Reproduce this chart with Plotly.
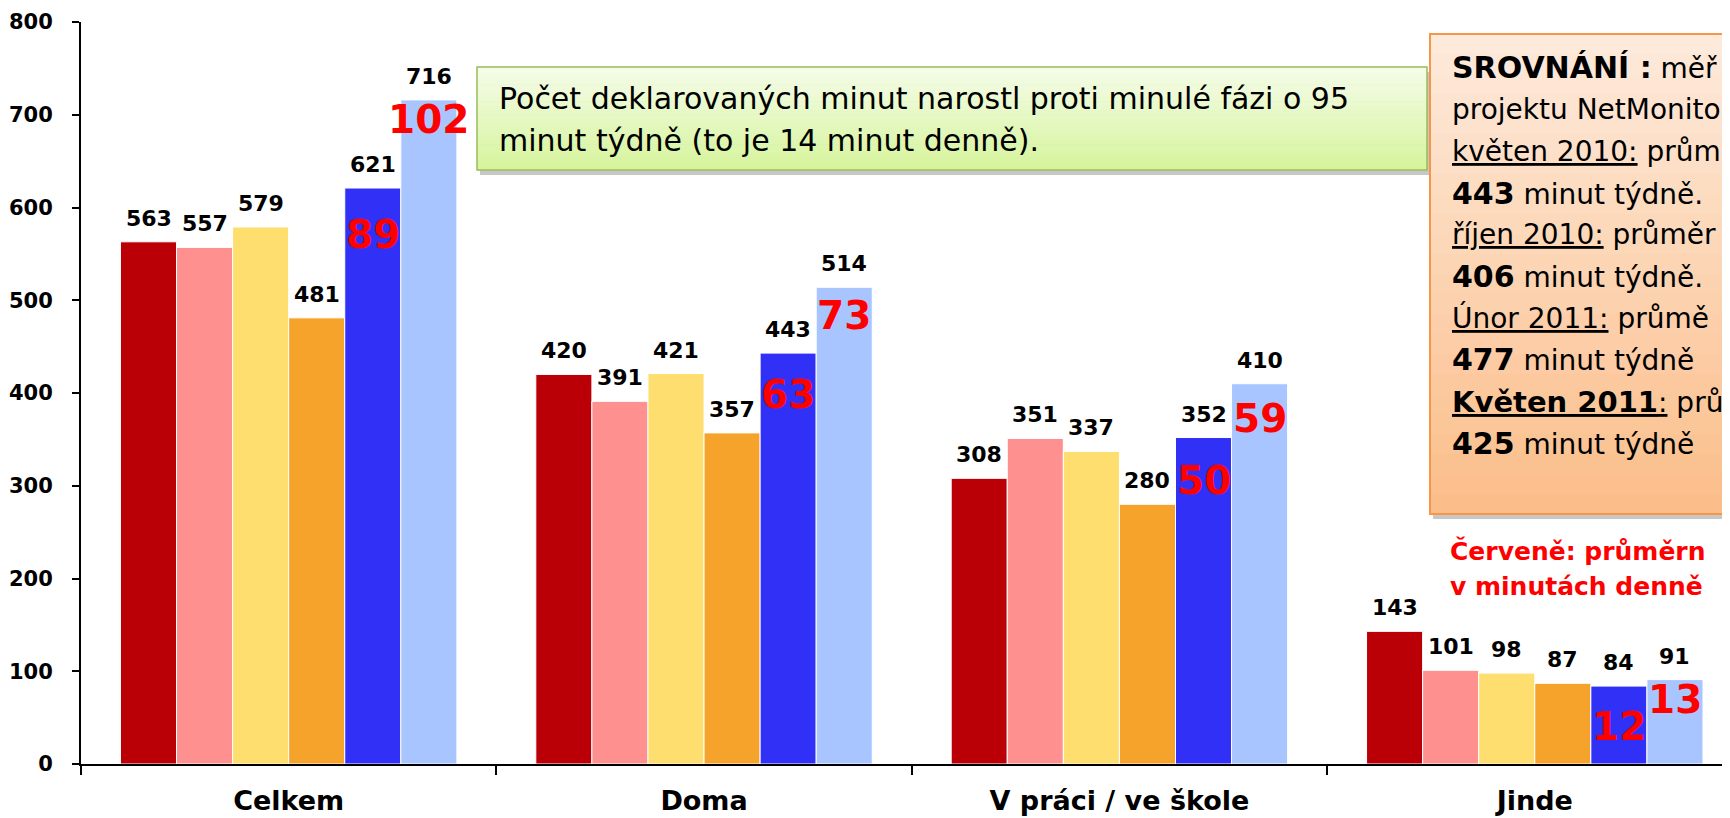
import plotly.graph_objects as go

# ---------------- data ----------------
categories = ["Celkem", "Doma", "V práci / ve škole", "Jinde"]
series_names = ["Fáze 1", "Fáze 2", "Fáze 3", "Fáze 4", "Fáze 5", "Fáze 6"]
series_values = [
    [563, 420, 308, 143],
    [557, 391, 351, 101],
    [579, 421, 337, 98],
    [481, 357, 280, 87],
    [621, 443, 352, 84],
    [716, 514, 410, 91],
]
# daily minutes (red labels) for series 5 and 6
daily_s5 = [89, 63, 50, 12]
daily_s6 = [102, 73, 59, 13]
y_ticks = [0, 100, 200, 300, 400, 500, 600, 700, 800]

# ---------------- styling ----------------
colors = ["#BA0006", "#FF9090", "#FEDE6E", "#F5A32A", "#3030F6", "#A8C5FF"]
FONT = "DejaVu Sans"
OFF = 8                      # default page margin of the html body
W, H = 1730 - OFF, 818 - OFF
L, R, T, B = 73, 0, 14, 54
PW, PH = W - L - R, H - T - B
X_RANGE = [-0.5, 3.47]
BARGAP = 0.19
NS = len(series_values)
bw = (1 - BARGAP) / NS


def bar_x(gi, si):
    return gi - (1 - BARGAP) / 2 + bw * (si + 0.5)


def pxx(px):  # page pixel -> paper x
    return (px - OFF - L) / PW


def pxy(py):  # page pixel -> paper y
    return (T + PH - (py - OFF)) / PH


fig = go.Figure()
for si in range(NS):
    fig.add_trace(go.Bar(
        x=categories, y=series_values[si], name=series_names[si],
        marker=dict(color=colors[si], line=dict(color="white", width=1)),
        showlegend=False, hoverinfo="x+y",
    ))

annotations = []
# black value labels
for si in range(NS):
    for gi, v in enumerate(series_values[si]):
        annotations.append(dict(
            x=bar_x(gi, si), y=v, xref="x", yref="y", text=str(v),
            showarrow=False, yanchor="bottom", xanchor="center", yshift=9,
            font=dict(family=FONT, size=22, color="black", weight="bold")))

# red daily labels, inside the top of the blue bars
drop5 = [30, 25, 26, 24]
drop6 = [3, 12, 18, 3]
for gi in range(len(categories)):
    for si, vals, drops in ((4, daily_s5, drop5), (5, daily_s6, drop6)):
        annotations.append(dict(
            x=bar_x(gi, si), y=series_values[si][gi], xref="x", yref="y",
            text=str(vals[gi]), showarrow=False, yanchor="top", xanchor="center",
            yshift=-(drops[gi] - 8),
            font=dict(family=FONT, size=39, color="#FF0000", weight="bold")))

# green note box text
green_lines = ["Počet deklarovaných minut narostl proti minulé fázi o 95",
               "minut týdně (to je 14 minut denně)."]
for i, t in enumerate(green_lines):
    annotations.append(dict(
        x=pxx(497), y=pxy(98 + 42 * i), xref="paper", yref="paper", text=t,
        showarrow=False, xanchor="left", yanchor="middle",
        font=dict(family=FONT, size=30, color="black")))

# orange comparison box text (as much as the reference shows before its right edge)
BS = '<span style="font-size:30px;font-weight:bold">'
orange_lines = [
    BS + "SROVNÁNÍ :</span> měř",
    "projektu NetMonito",
    "<u>květen 2010:</u> prům",
    BS + "443</span> minut týdně.",
    "<u>říjen 2010:</u> průměr",
    BS + "406</span> minut týdně.",
    "<u>Únor 2011:</u> průmě",
    BS + "477</span> minut týdně",
    '<span style="font-size:29px;font-weight:bold"><u>Květen 2011</u></span><u>:</u> prů',
    BS + "425</span> minut týdně",
]
for i, t in enumerate(orange_lines):
    annotations.append(dict(
        x=pxx(1450), y=pxy(68 + 41.7 * i), xref="paper", yref="paper", text=t,
        showarrow=False, xanchor="left", yanchor="middle",
        font=dict(family=FONT, size=28, color="black")))

red_lines = ["Červeně: průměrn", "v minutách denně"]
for i, t in enumerate(red_lines):
    annotations.append(dict(
        x=pxx(1448), y=pxy(551 + 35 * i), xref="paper", yref="paper", text=t,
        showarrow=False, xanchor="left", yanchor="middle",
        font=dict(family=FONT, size=25, color="#FF0000", weight="bold")))


# ---------------- boxes (gradient strips) ----------------
def hexrgb(h):
    h = h.lstrip("#")
    return tuple(int(h[i:i + 2], 16) for i in (0, 2, 4))


def box(x0, y0, x1, y1, ctop, cbot, border, bw_=1.5, n=24):
    shapes = []
    shapes.append(dict(type="rect", xref="paper", yref="paper",
                       x0=pxx(x0 + 3), x1=pxx(x1 + 3), y0=pxy(y1 + 5), y1=pxy(y0 + 5),
                       fillcolor="rgba(0,0,0,0.22)", line=dict(width=0), layer="above"))
    a, b = hexrgb(ctop), hexrgb(cbot)
    for k in range(n):
        f = (k + 0.5) / n
        c = tuple(round(a[j] + (b[j] - a[j]) * f) for j in range(3))
        ya = y0 + (y1 - y0) * k / n
        yb = y0 + (y1 - y0) * (k + 1) / n
        shapes.append(dict(type="rect", xref="paper", yref="paper",
                           x0=pxx(x0), x1=pxx(x1), y0=pxy(yb + 0.5), y1=pxy(ya),
                           fillcolor="rgb(%d,%d,%d)" % c, line=dict(width=0), layer="above"))
    shapes.append(dict(type="rect", xref="paper", yref="paper",
                       x0=pxx(x0), x1=pxx(x1), y0=pxy(y1), y1=pxy(y0),
                       fillcolor="rgba(0,0,0,0)", line=dict(color=border, width=bw_), layer="above"))
    return shapes


shapes = []
shapes += box(477, 67, 1427, 170, "#F5FCEA", "#D6F49B", "#9BBB59", 1.5)
shapes += box(1430, 34, 1780, 514, "#FDEBDD", "#FBBD88", "#F79646", 2)

fig.update_layout(
    width=W, height=H,
    margin=dict(l=L, r=R, t=T, b=B, pad=0, autoexpand=False),
    paper_bgcolor="white", plot_bgcolor="white",
    barmode="group", bargap=BARGAP, bargroupgap=0,
    annotations=annotations, shapes=shapes,
    font=dict(family=FONT, color="black"),
)
fig.update_xaxes(
    range=X_RANGE, showline=True, linecolor="black", linewidth=2,
    ticks="outside", tickson="boundaries", ticklen=9, tickwidth=2, tickcolor="black",
    tickfont=dict(family=FONT, size=27, color="black", weight="bold"),
    ticklabelstandoff=12, automargin=False,
    showgrid=False, zeroline=False, fixedrange=True,
)
fig.update_yaxes(
    range=[0, 800], tickvals=y_ticks, showline=True, linecolor="black", linewidth=2,
    ticks="outside", ticklen=7, tickwidth=2, tickcolor="black",
    tickfont=dict(family=FONT, size=21, color="black", weight="bold"),
    ticklabelstandoff=15, automargin=False,
    showgrid=False, zeroline=False, fixedrange=True,
)

fig.write_html("out.html")
